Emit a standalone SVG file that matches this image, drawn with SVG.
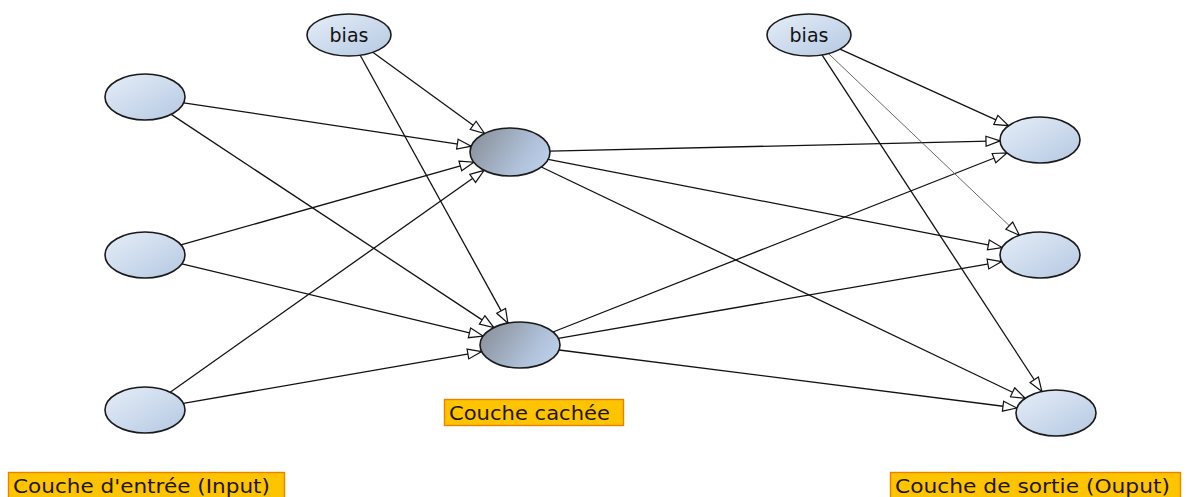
<svg xmlns="http://www.w3.org/2000/svg" width="1187" height="497" viewBox="0 0 1187 497">
  <style>
    .node { stroke: #1a1a1a; stroke-width: 1.6; }
    .in { fill: url(#gBlue); }
    .hid { fill: url(#gGrey); }
    .edge { stroke: #111; stroke-width: 1.3; fill: none; marker-end: url(#arrow); }
    .thin { stroke: #555; stroke-width: 0.9; }
    .lbl { fill: #ffc400; stroke: #ee8000; stroke-width: 1.4; }
    .lt { font-family: "DejaVu Sans", "Liberation Sans", sans-serif; font-size: 19.5px; fill: #1e1600; }
    .bt { font-family: "DejaVu Sans", "Liberation Sans", sans-serif; font-size: 19px; fill: #111; text-anchor: middle; }
  </style>
  <defs>
    <linearGradient id="gBlue" x1="0" y1="0" x2="1" y2="1">
      <stop offset="0" stop-color="#e6eef8"/>
      <stop offset="1" stop-color="#b4c8e2"/>
    </linearGradient>
    <linearGradient id="gGrey" x1="0" y1="0.3" x2="1" y2="0.7">
      <stop offset="0" stop-color="#8b929c"/>
      <stop offset="0.7" stop-color="#b0c2da"/>
      <stop offset="1" stop-color="#bcd0ea"/>
    </linearGradient>
    <marker id="arrow" markerUnits="userSpaceOnUse" markerWidth="16" markerHeight="12" refX="15" refY="6" orient="auto">
      <path d="M1,1 L15,6 L1,11 Z" fill="#fff" stroke="#111" stroke-width="1.2"/>
    </marker>
  </defs>

  <rect width="1187" height="497" fill="#fff"/>

  <g id="connectors">
    <line class="edge" x1="183.7" y1="102.8" x2="471.2" y2="146.2"/>
    <line class="edge" x1="171.2" y1="114.4" x2="493.8" y2="327.6"/>
    <line class="edge" x1="180.9" y1="244.9" x2="473.8" y2="162.2"/>
    <line class="edge" x1="181.9" y1="263.9" x2="483.1" y2="336.1"/>
    <line class="edge" x1="170.2" y1="392.2" x2="484.1" y2="170.3"/>
    <line class="edge" x1="183.3" y1="403.4" x2="481.7" y2="351.6"/>
    <line class="edge" x1="372.8" y1="52.3" x2="484.5" y2="133.5"/>
    <line class="edge" x1="360.2" y1="55.2" x2="507.9" y2="323.1"/>
    <line class="edge" x1="550" y1="151.1" x2="1000" y2="140.9"/>
    <line class="edge" x1="548.1" y1="159.4" x2="1002.1" y2="247.6"/>
    <line class="edge" x1="541.3" y1="167" x2="1025.2" y2="398.3"/>
    <line class="edge" x1="553" y1="332" x2="1007" y2="153"/>
    <line class="edge" x1="558.3" y1="338.4" x2="1001.7" y2="261.6"/>
    <line class="edge" x1="559.1" y1="350" x2="1016.9" y2="408"/>
    <line class="edge" x1="840" y1="49.1" x2="1008.6" y2="125.7"/>
    <line class="edge thin" x1="828.5" y1="53.6" x2="1019.4" y2="235.3"/>
    <line class="edge" x1="822" y1="54.9" x2="1041.9" y2="391.5"/>
  </g>

  <g id="in1"><ellipse class="node in" cx="145" cy="97" rx="40" ry="23"/></g>
  <g id="in2"><ellipse class="node in" cx="145" cy="255" rx="40" ry="23"/></g>
  <g id="in3"><ellipse class="node in" cx="145" cy="410" rx="40" ry="23"/></g>

  <g id="bias1"><ellipse class="node in" cx="349" cy="35" rx="42" ry="21"/><text class="bt" x="349" y="41.5">bias</text></g>
  <g id="bias2"><ellipse class="node in" cx="809" cy="35" rx="42" ry="21"/><text class="bt" x="809" y="41.5">bias</text></g>

  <g id="hid1"><ellipse class="node hid" cx="510" cy="152" rx="40" ry="24"/></g>
  <g id="hid2"><ellipse class="node hid" cx="520" cy="345" rx="40" ry="23"/></g>

  <g id="out1"><ellipse class="node in" cx="1040" cy="140" rx="40" ry="23"/></g>
  <g id="out2"><ellipse class="node in" cx="1040" cy="255" rx="40" ry="23"/></g>
  <g id="out3"><ellipse class="node in" cx="1056" cy="413" rx="40" ry="23"/></g>

  <g id="label-hidden">
    <rect class="lbl" x="444.5" y="399.5" width="179" height="26"/>
    <text class="lt" x="449" y="419.5" textLength="161" lengthAdjust="spacingAndGlyphs">Couche cachée</text>
  </g>
  <g id="label-input">
    <rect class="lbl" x="8.5" y="472.5" width="276" height="26"/>
    <text class="lt" x="13" y="492.5" textLength="257" lengthAdjust="spacingAndGlyphs">Couche d'entrée (Input)</text>
  </g>
  <g id="label-output">
    <rect class="lbl" x="890.5" y="472.5" width="290" height="26"/>
    <text class="lt" x="895" y="492.5" textLength="275" lengthAdjust="spacingAndGlyphs">Couche de sortie (Ouput)</text>
  </g>
</svg>
